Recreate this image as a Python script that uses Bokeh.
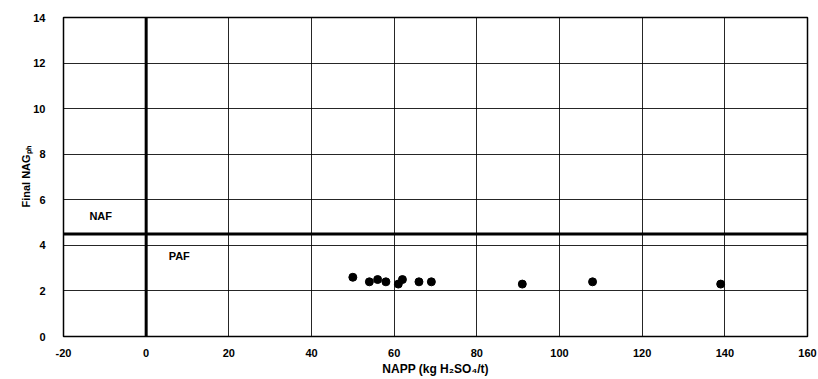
from bokeh.plotting import figure
from bokeh.models import Span, Label, Range1d, FixedTicker
from bokeh.embed import file_html
from bokeh.resources import INLINE

# NAPP (kg H2SO4/t) and final NAG pH for each sample
napp = [50, 54, 56, 58, 61, 62, 66, 69, 91, 108, 139]
nag_ph = [2.6, 2.4, 2.5, 2.4, 2.3, 2.5, 2.4, 2.4, 2.3, 2.4, 2.3]

x_ticks = [-20, 0, 20, 40, 60, 80, 100, 120, 140, 160]
y_ticks = [0, 2, 4, 6, 8, 10, 12, 14]
ph_threshold = 4.5

FONT = "Liberation Sans"

p = figure(width=818, height=379, output_backend="svg", toolbar_location=None,
           x_range=Range1d(-20, 160), y_range=Range1d(0, 14),
           min_border_left=63, min_border_right=11, min_border_top=17,
           min_border_bottom=43)
p.background_fill_color = "white"
p.border_fill_color = "white"
p.outline_line_color = "black"
p.outline_line_width = 1.5

for ax in (p.xaxis, p.yaxis):
    ax.major_tick_line_color = None
    ax.minor_tick_line_color = None
    ax.axis_line_color = "black"
    ax.major_label_text_font = FONT
    ax.major_label_text_font_style = "bold"
    ax.major_label_text_font_size = "11px"
    ax.major_label_text_color = "black"
    ax.axis_label_text_font = FONT
    ax.axis_label_text_font_style = "bold"
    ax.axis_label_text_color = "black"

p.xaxis.ticker = FixedTicker(ticks=x_ticks)
p.yaxis.ticker = FixedTicker(ticks=y_ticks)
p.xaxis.major_label_overrides = {t: str(t) for t in x_ticks}
p.xaxis.major_label_standoff = 6
p.yaxis.major_label_standoff = 12

p.xaxis.axis_label = "NAPP (kg H\u2082SO\u2084/t)"
p.xaxis.axis_label_text_font_size = "12px"
p.xaxis.axis_label_standoff = 2

p.yaxis.axis_label = "Final NAG\u209a\u2095"
p.yaxis.axis_label_text_font_size = "11px"
p.yaxis.axis_label_standoff = -2

for g in (p.xgrid, p.ygrid):
    g.grid_line_color = "black"
    g.grid_line_width = 1
    g.grid_line_alpha = 0.85

# NAF / PAF classification boundaries
p.add_layout(Span(location=0, dimension="height", line_color="black", line_width=3))
p.add_layout(Span(location=ph_threshold, dimension="width", line_color="black", line_width=3))

p.scatter(napp, nag_ph, size=8, marker="circle", fill_color="black", line_color="black")

p.add_layout(Label(x=-11, y=5.3, text="NAF", text_font=FONT, text_font_style="bold",
                   text_font_size="11px", text_color="black",
                   text_align="center", text_baseline="middle"))
p.add_layout(Label(x=8, y=3.55, text="PAF", text_font=FONT, text_font_style="bold",
                   text_font_size="11px", text_color="black",
                   text_align="center", text_baseline="middle"))

open("out.html", "w").write(file_html(p, INLINE))
